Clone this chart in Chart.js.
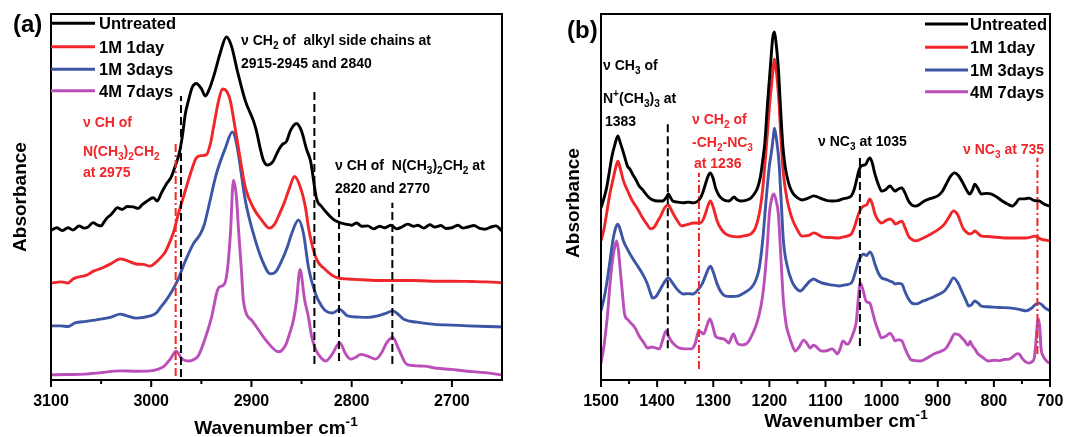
<!DOCTYPE html>
<html><head><meta charset="utf-8">
<script src="https://cdn.jsdelivr.net/npm/chart.js@4.4.1/dist/chart.umd.min.js"></script>
<style>
html,body{margin:0;padding:0;background:#fff;}
#wrap{position:relative;width:1066px;height:437px;overflow:hidden;}
canvas{position:absolute;top:0;}
#ca{left:0}#cb{left:533px}
</style></head><body>
<div id="wrap"><canvas id="ca" width="533" height="437"></canvas><canvas id="cb" width="533" height="437"></canvas></div>
<script>
// ---------------- DATA ----------------
const seriesNames = ['Untreated','1M 1day','1M 3days','4M 7days'];
const seriesColors = ['#000000','#f0262a','#3c55a5','#bb4fba'];

// Panel (a): [wavenumber, absorbance (arb.)]
const aUntreated = [[3100,40.9],[3094,41.6],[3089,40.8],[3083,41.6],[3078,41.0],[3072,42.1],[3067,41.5],[3063,41.8],[3058,43.0],[3054,42.4],[3050,42.1],[3047,43.2],[3044,44.3],[3040,45.2],[3037,46.2],[3034,47.1],[3029,46.6],[3024,47.4],[3018,47.3],[3013,46.9],[3009,47.9],[3004,48.9],[2998,49.8],[2994,48.9],[2990,51.0],[2985,53.5],[2980,55.5],[2976,58.5],[2972,62.0],[2969,66.5],[2966,72.7],[2963,76.2],[2959,80.0],[2955,81.0],[2950,79.6],[2946,77.6],[2942,79.5],[2937,83.6],[2931,89.5],[2925,93.7],[2920,91.3],[2914,84.4],[2906,76.2],[2898,70.8],[2895,68.0],[2891,63.0],[2888,60.0],[2884,58.7],[2879,59.5],[2873,62.8],[2869,64.4],[2865,65.2],[2861,68.2],[2855,70.1],[2850,68.0],[2845,63.0],[2841,59.8],[2835,49.5],[2830,47.4],[2824,45.4],[2818,43.8],[2812,43.0],[2806,42.6],[2800,42.3],[2795,42.9],[2790,42.0],[2784,42.1],[2778,41.3],[2772,42.0],[2767,41.6],[2761,42.3],[2755,41.3],[2750,41.8],[2744,42.6],[2738,42.0],[2734,42.3],[2728,41.5],[2722,42.4],[2717,41.8],[2711,42.2],[2706,41.4],[2700,41.6],[2694,42.3],[2689,41.5],[2684,41.8],[2678,42.2],[2672,41.4],[2667,41.2],[2661,41.8],[2656,42.1],[2650,40.7]];
const a1day = [[3100,26.5],[3090,26.8],[3083,26.5],[3078,27.6],[3073,28.1],[3065,28.6],[3057,29.8],[3049,30.6],[3040,31.8],[3031,33.1],[3025,32.7],[3015,31.7],[3008,31.6],[3001,31.1],[2996,32.0],[2991,33.3],[2986,35.0],[2981,38.0],[2977,41.0],[2974,44.3],[2967,50.8],[2960,57.1],[2955,60.7],[2950,61.3],[2945,61.5],[2941,64.5],[2938,68.8],[2933,76.0],[2929,79.5],[2925,79.0],[2921,76.2],[2917,70.0],[2913,63.4],[2906,52.5],[2898,47.0],[2889,43.4],[2882,41.5],[2877,42.5],[2872,45.4],[2867,48.6],[2862,52.5],[2857,55.6],[2851,52.5],[2846,47.0],[2843,41.5],[2837,34.4],[2833,32.0],[2828,30.6],[2820,28.7],[2814,27.9],[2804,27.6],[2790,27.4],[2770,27.2],[2740,27.2],[2720,27.0],[2700,27.0],[2680,26.9],[2665,26.8],[2650,26.6]];
const a3days = [[3100,14.8],[3090,14.8],[3083,14.6],[3076,15.6],[3065,16.0],[3049,16.7],[3040,17.2],[3031,18.0],[3025,17.6],[3015,16.9],[3001,17.5],[2995,18.3],[2991,19.7],[2986,21.5],[2981,23.5],[2974,27.0],[2966,32.5],[2958,37.2],[2951,39.9],[2947,42.5],[2943,47.0],[2935,56.3],[2926,63.4],[2919,67.8],[2916,66.0],[2913,61.7],[2906,48.9],[2898,39.9],[2889,32.5],[2881,29.0],[2876,29.5],[2870,32.5],[2864,36.5],[2860,39.9],[2853,43.7],[2848,39.9],[2843,30.6],[2836,23.5],[2830,20.2],[2826,18.9],[2819,18.3],[2812,19.3],[2804,17.5],[2794,17.2],[2784,17.1],[2774,17.5],[2766,18.2],[2759,18.9],[2753,17.8],[2748,16.6],[2735,15.8],[2717,15.2],[2700,15.0],[2684,14.8],[2665,14.6],[2650,14.5]];
const a7days = [[3100,1.4],[3085,1.5],[3066,1.6],[3050,2.0],[3031,2.5],[3015,2.4],[3001,2.5],[2993,3.0],[2987,3.8],[2981,5.7],[2975,7.9],[2970,6.0],[2966,5.3],[2962,5.2],[2957,5.7],[2953,6.6],[2947,10.7],[2940,16.9],[2933,25.1],[2927,26.2],[2924,30.0],[2921,39.9],[2918,54.6],[2915,50.0],[2913,41.5],[2910,30.0],[2908,21.6],[2899,16.1],[2885,10.7],[2873,7.7],[2866,9.5],[2862,12.6],[2858,16.5],[2855,21.6],[2851.5,30.2],[2847,22.0],[2843,17.0],[2840,12.0],[2836,8.4],[2831,6.2],[2826,5.2],[2819,7.2],[2812,10.2],[2806,7.1],[2801,5.7],[2796,6.2],[2791,7.0],[2784,6.5],[2776,5.7],[2770,7.5],[2765,10.2],[2759,11.6],[2753,8.4],[2745,4.3],[2728,3.8],[2715,3.2],[2701,2.9],[2685,2.4],[2667,2.0],[2650,1.4]];

// Panel (b)
const bUntreated = [[1500,47.0],[1495,49.5],[1490,52.5],[1485,57.0],[1481,60.7],[1475,64.5],[1470,66.7],[1466,65.0],[1461,62.6],[1457,60.5],[1453,58.5],[1448,57.5],[1444,56.3],[1438,54.8],[1432,53.0],[1426,52.0],[1420,50.8],[1414,49.8],[1408,49.2],[1399,48.9],[1390,48.9],[1384,49.8],[1380,50.8],[1376,49.8],[1372,48.9],[1363,48.6],[1354,48.4],[1345,48.6],[1336,48.4],[1328,48.8],[1323,49.7],[1318,51.5],[1314,53.5],[1309,55.8],[1305,56.6],[1300,55.0],[1296,52.5],[1290,50.5],[1284,49.5],[1278,49.0],[1272,48.9],[1267,49.5],[1263,50.0],[1258,49.3],[1251,48.9],[1242,49.1],[1233,49.7],[1227,50.8],[1221,52.5],[1216,55.5],[1212,59.8],[1208,65.0],[1203,76.2],[1198,86.0],[1194,93.5],[1191,95.1],[1188,92.0],[1184,85.2],[1180,74.0],[1176,64.0],[1172,58.5],[1168,55.2],[1163,52.5],[1157,50.8],[1150,49.8],[1142,49.2],[1132,49.6],[1121,50.3],[1114,50.0],[1106,49.5],[1097,49.0],[1088,48.9],[1078,49.0],[1069,49.5],[1060,49.8],[1054,50.3],[1049,52.0],[1045,54.4],[1040,57.5],[1036,58.5],[1032,58.7],[1028,59.0],[1024,60.2],[1021,60.7],[1017,59.5],[1012,56.3],[1006,53.5],[1000,51.6],[993,52.0],[985,53.0],[980,52.2],[976,51.6],[970,52.2],[964,52.5],[958,51.0],[952,48.9],[946,47.8],[939,47.5],[932,48.0],[924,48.9],[912,49.6],[900,50.3],[892,51.5],[885,53.5],[878,55.5],[870,56.6],[863,55.8],[855,53.8],[849,52.0],[843,50.8],[838,52.0],[834,53.5],[829,52.5],[822,50.8],[813,51.0],[804,50.8],[795,50.0],[785,48.9],[775,48.0],[767,47.5],[760,48.5],[755,49.5],[746,49.5],[737,49.7],[728,49.0],[719,48.9],[710,48.0],[700,47.5]];
const b1day = [[1500,38.0],[1495,41.0],[1490,45.4],[1484,51.0],[1478,55.2],[1473,58.5],[1470,59.8],[1466,58.0],[1460,54.4],[1452,51.5],[1444,48.9],[1435,46.8],[1426,44.3],[1418,42.5],[1411,41.3],[1405,41.8],[1399,43.4],[1393,45.0],[1387,47.0],[1380,47.8],[1375,46.5],[1369,44.8],[1363,43.3],[1357,42.1],[1350,42.3],[1343,42.6],[1336,42.9],[1328,42.9],[1323,42.9],[1318,43.8],[1314,45.4],[1309,47.8],[1305,48.9],[1300,47.2],[1293,43.4],[1286,41.3],[1278,39.9],[1268,39.3],[1257,39.1],[1245,39.4],[1233,39.9],[1225,41.5],[1218,45.4],[1212,52.0],[1206,62.6],[1200,74.5],[1196,80.9],[1193,85.5],[1191,87.7],[1188,85.0],[1183,76.2],[1179,65.0],[1175,56.3],[1168,49.0],[1160,44.3],[1150,41.0],[1142,39.3],[1130,39.5],[1121,40.2],[1114,39.8],[1106,39.1],[1090,38.9],[1076,38.8],[1065,39.2],[1054,39.9],[1048,42.0],[1041,45.4],[1036,47.0],[1032,47.5],[1026,48.0],[1021,49.5],[1016,47.8],[1012,45.4],[1006,43.6],[1000,42.9],[992,43.6],[985,44.0],[979,43.3],[976,42.6],[970,43.0],[964,43.4],[958,41.5],[952,39.3],[946,38.4],[939,38.0],[926,38.8],[912,39.9],[900,41.0],[888,42.6],[880,44.5],[872,46.2],[865,45.3],[855,41.5],[849,40.4],[843,39.9],[838,40.2],[834,40.7],[828,40.0],[822,39.3],[810,39.2],[795,39.0],[773,38.8],[755,38.8],[743,38.8],[735,39.0],[728,39.3],[722,39.0],[716,38.5],[708,38.2],[700,38.0]];
const b3days = [[1500,18.9],[1495,22.0],[1490,26.2],[1484,32.5],[1479,38.0],[1474,41.5],[1470,42.6],[1466,41.2],[1460,38.0],[1452,35.5],[1444,33.3],[1435,31.2],[1426,29.0],[1418,26.5],[1412,23.8],[1408,22.4],[1402,22.8],[1396,24.3],[1388,26.5],[1380,27.9],[1373,26.6],[1366,25.1],[1360,24.1],[1354,23.5],[1345,23.6],[1336,23.5],[1328,24.5],[1320,26.2],[1313,28.8],[1308,30.6],[1305,31.1],[1300,29.5],[1293,26.2],[1286,24.0],[1278,22.9],[1268,22.8],[1257,22.9],[1245,23.8],[1233,25.1],[1225,27.0],[1218,30.6],[1212,38.0],[1206,48.9],[1200,58.5],[1196,62.6],[1193,66.5],[1191,68.8],[1188,66.5],[1183,59.8],[1179,49.0],[1175,38.0],[1168,31.0],[1160,27.0],[1152,25.0],[1145,24.3],[1135,25.8],[1128,27.0],[1121,27.6],[1114,27.0],[1106,26.5],[1090,26.0],[1076,25.7],[1065,26.0],[1054,26.5],[1048,28.8],[1041,32.5],[1036,34.0],[1032,34.4],[1027,34.0],[1021,35.0],[1016,33.8],[1012,31.7],[1006,29.3],[1000,27.9],[992,27.5],[985,27.0],[979,26.6],[976,26.2],[970,26.4],[964,26.2],[958,24.0],[952,22.1],[946,21.0],[939,20.8],[926,21.6],[912,22.4],[900,23.3],[888,24.3],[880,26.0],[872,27.9],[865,26.8],[855,23.5],[849,21.5],[845,20.2],[840,20.5],[834,21.6],[828,21.0],[822,20.2],[810,20.0],[790,19.8],[773,19.7],[755,19.3],[743,18.9],[733,19.6],[727,20.5],[720,21.0],[714,20.5],[709,19.7],[700,18.9]];
const b7days = [[1500,4.6],[1496,8.0],[1492,12.6],[1488,18.5],[1484,26.2],[1480,32.0],[1476,36.1],[1472,38.0],[1469,35.5],[1466,30.6],[1462,24.0],[1458,18.0],[1452,16.5],[1447,15.6],[1442,14.8],[1438,13.9],[1432,12.0],[1426,10.7],[1421,9.5],[1417,8.7],[1410,9.0],[1403,8.8],[1396,8.5],[1390,11.0],[1384,13.4],[1379,11.8],[1375,10.7],[1368,9.5],[1360,8.7],[1350,8.5],[1339,8.5],[1332,10.0],[1326,13.4],[1321,13.0],[1317,12.6],[1311,15.0],[1306,16.7],[1301,14.8],[1296,12.0],[1288,11.4],[1281,11.2],[1276,10.6],[1272,10.1],[1268,11.5],[1264,12.6],[1260,11.2],[1257,10.1],[1250,9.6],[1242,9.8],[1236,10.8],[1230,12.6],[1224,14.8],[1218,18.0],[1213,22.0],[1209,27.0],[1204,36.0],[1200,45.4],[1196,49.5],[1192,50.8],[1188,49.0],[1184,45.4],[1180,35.0],[1175,21.6],[1170,15.0],[1166,12.6],[1160,9.8],[1154,7.9],[1147,9.0],[1139,10.9],[1133,10.0],[1127,8.7],[1122,9.5],[1118,9.3],[1112,8.4],[1106,7.9],[1098,8.0],[1088,8.5],[1083,7.8],[1079,7.1],[1074,8.5],[1069,10.7],[1064,10.0],[1060,9.8],[1055,11.0],[1051,12.6],[1048,14.0],[1045,16.1],[1042,21.5],[1038,26.5],[1033,24.5],[1028,21.6],[1024,21.2],[1021,21.0],[1016,18.5],[1012,16.1],[1006,13.5],[1000,11.5],[992,12.0],[985,12.8],[980,11.8],[976,10.7],[970,11.0],[964,10.7],[958,8.5],[952,6.5],[949,5.7],[940,5.3],[931,5.2],[920,5.9],[907,7.1],[895,7.8],[885,8.7],[877,10.8],[870,12.6],[862,12.3],[857,11.5],[852,10.7],[846,9.5],[842,10.6],[840,9.8],[834,8.5],[828,7.1],[820,6.2],[810,5.2],[800,5.4],[790,5.3],[782,5.6],[773,5.7],[765,6.5],[758,7.2],[755,7.1],[750,6.0],[744,5.0],[737,4.6],[732,5.0],[728,6.0],[725,10.7],[722.5,15.5],[720.5,16.7],[718,14.0],[716,8.7],[712,6.5],[709,5.7],[705,5.0],[700,4.6]];

// Ticks
const aMajorTicks = [3100,3000,2900,2800,2700];
const aMinorTicks = [3050,2950,2850,2750,2650];
const bMajorTicks = [1500,1400,1300,1200,1100,1000,900,800,700];
const bMinorTicks = [1450,1350,1250,1150,1050,950,850,750];

// Band marker lines: wavenumber, lower and upper absorbance
const aMarkWn  = [2975.6, 2970.3, 2837.2, 2812.6, 2759.4];
const aMarkLo  = [1.1, 0.8, 4.4, 5.2, 4.4];
const aMarkHi  = [64.5, 77.6, 79.0, 49.7, 48.4];
const aMarkRed = [true, false, false, false, false];
const bMarkWn  = [1381, 1325.5, 1038.7, 722.4];
const bMarkLo  = [8.7, 3.0, 9.3, 7.1];
const bMarkHi  = [70.8, 56.6, 61.7, 60.7];
const bMarkRed = [false, true, false, true];

// ---------------- HELPERS ----------------
const FAM = '"Liberation Sans", Arial, Helvetica, sans-serif';
function richParts(s){
  return s.split(/(_\{[^}]*\}|\^\{[^}]*\})/).filter(p=>p.length).map(p=>{
    if(p.startsWith('_{')) return {t:p.slice(2,-1),k:'sub'};
    if(p.startsWith('^{')) return {t:p.slice(2,-1),k:'sup'};
    return {t:p,k:''};
  });
}
function drawRich(ctx,s,x,y,size,color,align){
  const parts=richParts(s);
  const f=k=>'bold '+(k?size*0.72:size)+'px '+FAM;
  let w=0; parts.forEach(p=>{ctx.font=f(p.k);p.w=ctx.measureText(p.t).width;w+=p.w;});
  let cx = align==='center'? x-w/2 : x;
  ctx.fillStyle=color; ctx.textAlign='left'; ctx.textBaseline='alphabetic';
  parts.forEach(p=>{ctx.font=f(p.k);const dy=p.k==='sub'?size*0.28:(p.k==='sup'?-size*0.42:0);ctx.fillText(p.t,cx,y+dy);cx+=p.w;});
}

const decor = {
  id:'decor',
  afterDraw(chart,args,o){
    const ctx=chart.ctx, a=chart.chartArea, x=chart.scales.x;
    ctx.save();
    ctx.strokeStyle='#000'; ctx.lineWidth=2; ctx.setLineDash([]);
    ctx.strokeRect(a.left,a.top,a.right-a.left,a.bottom-a.top);
    ctx.beginPath();
    o.major.forEach(v=>{const p=x.getPixelForValue(v);ctx.moveTo(p,a.bottom);ctx.lineTo(p,a.bottom+7);});
    o.minor.forEach(v=>{const p=x.getPixelForValue(v);if(p>a.left+1&&p<a.right-1){ctx.moveTo(p,a.bottom);ctx.lineTo(p,a.bottom+4);}});
    ctx.stroke();
    ctx.fillStyle='#000'; ctx.font='bold 16px '+FAM; ctx.textAlign='center'; ctx.textBaseline='alphabetic';
    o.major.forEach(v=>ctx.fillText(String(v),x.getPixelForValue(v),406));
    // axis titles
    drawRich(ctx,'Wavenumber cm^{-1}',o.xt[0],o.xt[1],19,'#000','center');
    ctx.save(); ctx.translate(o.yt[0],o.yt[1]); ctx.rotate(-Math.PI/2);
    ctx.font='bold 19px '+FAM; ctx.textAlign='center'; ctx.fillStyle='#000'; ctx.fillText('Absorbance',0,0);
    ctx.restore();
    // panel label
    ctx.font='bold 24px '+FAM; ctx.textAlign='left'; ctx.fillStyle='#000'; ctx.fillText(o.label[0],o.label[1],o.label[2]);
    // legend
    seriesNames.forEach((n,i)=>{
      const y=o.leg.ys[i];
      ctx.strokeStyle=seriesColors[i]; ctx.lineWidth=3; ctx.beginPath(); ctx.moveTo(o.leg.x0,y); ctx.lineTo(o.leg.x1,y); ctx.stroke();
      ctx.fillStyle='#000'; ctx.font='bold 16.5px '+FAM; ctx.textAlign='left'; ctx.fillText(n,o.leg.tx,y+6);
    });
    // notes
    o.notes.forEach(n=>drawRich(ctx,n[2],n[0],n[1],14,n[3]?seriesColors[1]:'#000','left'));
    ctx.restore();
  }
};

function buildDatasets(series, mWn, mLo, mHi, mRed){
  const ds = series.map((s,i)=>({
    data:s.map(p=>({x:p[0],y:p[1]})), borderColor:seriesColors[i], borderWidth:2.9,
    pointRadius:0, fill:false, cubicInterpolationMode:'monotone', order:1
  }));
  mWn.forEach((w,i)=>ds.push({
    data:[{x:w,y:mLo[i]},{x:w,y:mHi[i]}], borderColor:mRed[i]?seriesColors[1]:'#000', borderWidth:2,
    borderDash:mRed[i]?[8,3,2,3]:[8,4], pointRadius:0, fill:false, order:0
  }));
  return ds;
}

function makeChart(id, series, xmin, xmax, pad, marks, deco){
  return new Chart(document.getElementById(id),{
    type:'line',
    data:{datasets:buildDatasets(series,...marks)},
    options:{
      responsive:false, animation:false, devicePixelRatio:1, events:[],
      layout:{padding:pad},
      scales:{
        x:{type:'linear',reverse:true,min:xmin,max:xmax,display:false},
        y:{type:'linear',min:0,max:100,display:false}
      },
      plugins:{legend:{display:false},tooltip:{enabled:false},decor:deco}
    },
    plugins:[decor]
  });
}

makeChart('ca',[aUntreated,a1day,a3days,a7days],2650,3100,{left:51,right:31,top:14,bottom:57},
  [aMarkWn,aMarkLo,aMarkHi,aMarkRed],
  {major:aMajorTicks,minor:aMinorTicks,xt:[276,434],yt:[26,197],label:['(a)',13,32],
   leg:{x0:51,x1:95,tx:99,ys:[23.3,46.7,69.3,90.7]},
   notes:[[241,45,'ν CH_{2} of  alkyl side chains at',false],[241,68,'2915-2945 and 2840',false],
          [335,170,'ν CH of  N(CH_{3})_{2}CH_{2} at',false],[335,193,'2820 and 2770',false],
          [83,127,'ν CH of',true],[83,156,'N(CH_{3})_{2}CH_{2}',true],[83,177,'at 2975',true]]});

makeChart('cb',[bUntreated,b1day,b3days,b7days],700,1500,{left:68,right:16,top:14,bottom:57},
  [bMarkWn,bMarkLo,bMarkHi,bMarkRed],
  {major:bMajorTicks,minor:bMinorTicks,xt:[313,427],yt:[46,203],label:['(b)',34,38],
   leg:{x0:392,x1:435,tx:437,ys:[24,47.3,70,91.7]},
   notes:[[70,70,'ν CH_{3} of',false],[70,103,'N^{+}(CH_{3})_{3} at',false],[72,126,'1383',false],
          [159,124,'ν CH_{2} of',true],[159,147,'-CH_{2}-NC_{3}',true],[161,168,'at 1236',true],
          [285,146,'ν NC_{3} at 1035',false],[430,154,'ν NC_{3} at 735',true]]});
</script>
</body></html>
